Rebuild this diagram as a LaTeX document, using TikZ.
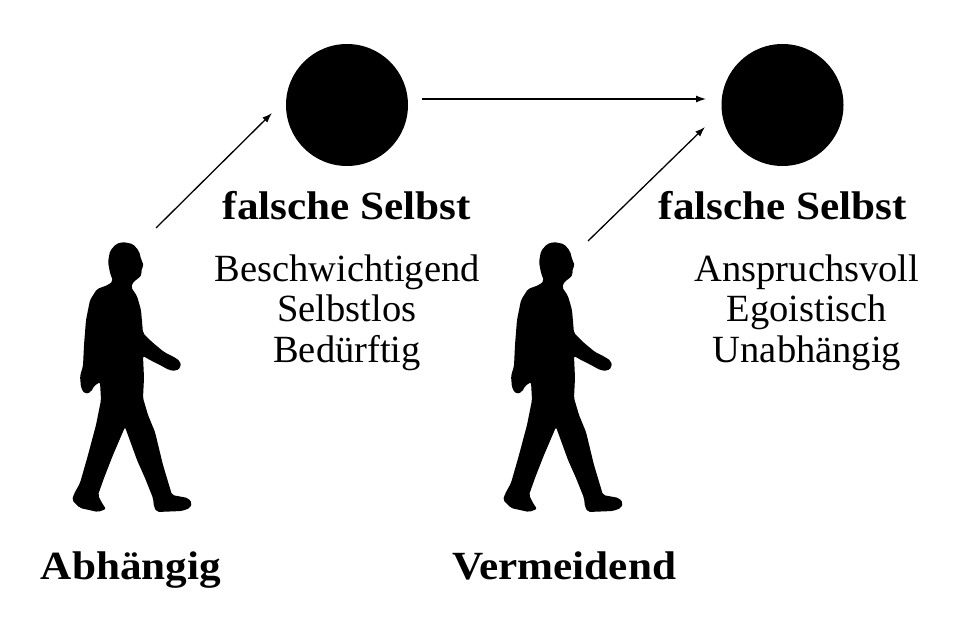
\documentclass[tikz,border=0pt]{standalone}
\usepackage{fontspec}
\setmainfont{Liberation Serif}
\newfontfamily\boldf[FakeStretch=1.08]{Liberation Serif Bold}
\usetikzlibrary{arrows.meta}
\tikzset{
  dot/.style={circle,fill=black,minimum size=122pt,inner sep=0pt},
  head/.style={font=\boldf\fontsize{40}{44}\selectfont,anchor=base,inner sep=0pt},
  item/.style={font=\fontsize{38.5}{41}\selectfont,anchor=base,inner sep=0pt},
  link/.style={line width=1.3pt,-{Latex[length=10pt,width=7pt]}},
  person/.style={fill=black,rounded corners=2pt}
}
\newcommand{\walkerfig}[1]{%
\fill[person,xshift=#1] (123,242) -- (133,244) -- (139,251) -- (141,259) -- (144,266) -- (141,269) -- (142,274) -- (138,279) -- (134,281) -- (132,285)
 -- (131,287) -- (137,296) -- (141,310) -- (143,333) -- (152,342) -- (164,352) -- (174,357) -- (180,361) -- (181,367) -- (176,371) -- (169,370) -- (160,365) -- (150,360) -- (143,356)
 -- (144,378) -- (143,398) -- (148,415) -- (155,432) -- (163,465) -- (172,495) -- (188,498) -- (192,503) -- (190,508) -- (182,511) -- (157,512) -- (154,507) -- (153,498)
 -- (145,478) -- (137,460) -- (125,427) -- (113,455) -- (104,478) -- (98,495) -- (102,503) -- (106,509) -- (98,512) -- (80,508) -- (72,500) -- (74,494) -- (80,483)
 -- (88,455) -- (96,425) -- (101,400) -- (100,382) -- (94,386) -- (91,392) -- (85,394) -- (81,388) -- (80,376) -- (83,366) -- (84,345) -- (86,320) -- (90,300)
 -- (97,289) -- (108,285) -- (113,281) -- (110,273) -- (108,262) -- (110,251) -- (116,244) -- cycle;}
\begin{document}
\begin{tikzpicture}[x=1pt,y=-1pt]
\useasboundingbox (0,0) rectangle (980,634);
% persons
\walkerfig{0pt}
\walkerfig{431pt}
% circles
\node[dot] (c1) at (347,105) {};
\node[dot] (c2) at (782.5,105) {};
% arrow endpoints
\coordinate (s1) at (156,228);
\coordinate (t1) at (272,113);
\coordinate (s2) at (588,241);
\coordinate (t2) at (705,127);
\coordinate (h1) at (422,99);
\coordinate (h2) at (706,99);
\draw[link] (s1) -- (t1);
\draw[link] (s2) -- (t2);
\draw[link] (h1) -- (h2);
% texts
\node[head] (f1) at (347,219) {falsche Selbst};
\node[head] (f2) at (783,219) {falsche Selbst};
\node[item] (l1) at (347,281) {Beschwichtigend};
\node[item] (l2) at (347,321) {Selbstlos};
\node[item] (l3) at (347,362) {Bedürftig};
\node[item] (r1) at (807,281) {Anspruchsvoll};
\node[item] (r2) at (807,321) {Egoistisch};
\node[item] (r3) at (807,362) {Unabhängig};
\node[head] (a1) at (131,579) {Abhängig};
\node[head] (a2) at (564,579) {Vermeidend};
\end{tikzpicture}
\end{document}
